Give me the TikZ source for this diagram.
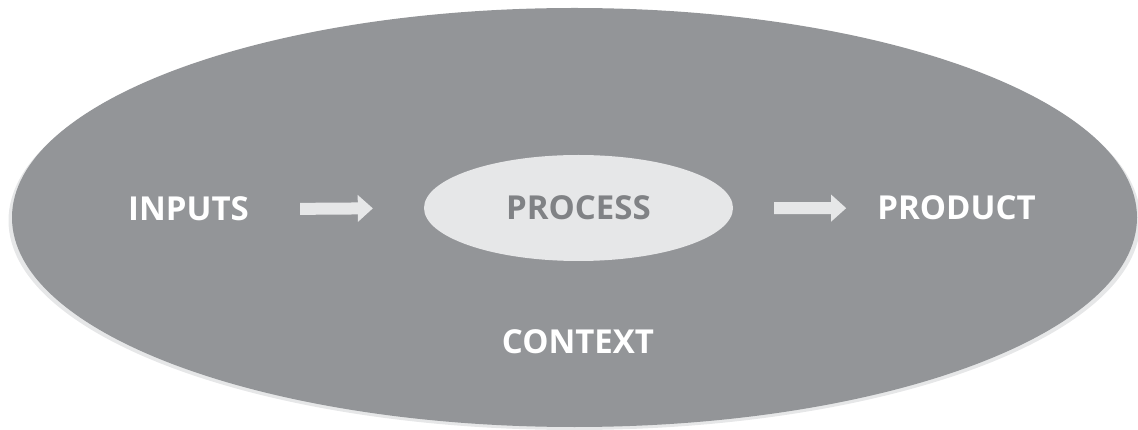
\documentclass[tikz,border=0pt]{standalone}
\usepackage{fontspec}
\setmainfont{Open Sans}
\usetikzlibrary{arrows.meta,shapes.geometric}
\definecolor{ctxgray}{HTML}{939598}
\definecolor{lightgray}{HTML}{E6E7E8}
\definecolor{procgray}{HTML}{808285}

\begin{document}
\begin{tikzpicture}[x=1pt, y=-1pt,
		label/.style={inner sep=0pt, anchor=base, text=white, font=\fontsize{33}{33}\selectfont\bfseries},
		fatarrow/.style={draw=lightgray, line width=12pt, -{Triangle[length=15pt, width=27pt, line width=0pt, fill=lightgray]}}]
			%%%%% START %%%%%
			
			\useasboundingbox (0, 0) rectangle (1138, 430);
			
			\fill[lightgray] (574.5, 220.5) ellipse (566 and 209.5);
			\fill[ctxgray] (574.5, 217.5) ellipse (562.5 and 209.5);
			
			\node[ellipse, fill=lightgray, minimum width=309pt, minimum height=106pt, inner sep=0pt,
				text=procgray, font=\fontsize{33}{33}\selectfont\bfseries] (process) at (578.5, 208) {PROCESS};
			
			\node[label] (inputs) at (188.5, 221) {INPUTS};
			\node[label] (product) at (956.5, 220) {PRODUCT};
			\node[label] (context) at (578, 353) {CONTEXT};
			
			\draw[fatarrow, shorten <=51pt, shorten >=51pt] (inputs.east) -- (process.west);
			\draw[fatarrow, shorten <=41pt, shorten >=31pt] (process.east) -- (product.west);
			
			%%%%% END %%%%%
		\end{tikzpicture}
\end{document}
